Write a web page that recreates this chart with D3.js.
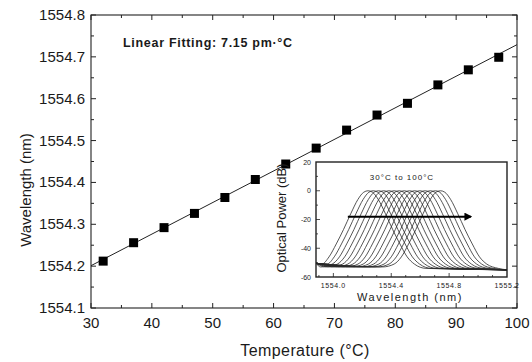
<!DOCTYPE html>
<html>
<head>
<meta charset="utf-8">
<script src="https://cdn.jsdelivr.net/npm/d3@7"></script>
<style>
  body { margin: 0; background: #fff; }
  svg { display: block; font-family: "Liberation Sans", Arial, sans-serif; }
  text { fill: #1a1a1a; }
</style>
</head>
<body>
<svg id="chart" width="532" height="362"></svg>
<script>
// main data: peak wavelength vs temperature
var temps = [32, 37, 42, 47, 52, 57, 62, 67, 72, 77, 82, 87, 92, 97];
var wavelengths = [1554.212, 1554.256, 1554.292, 1554.326, 1554.364, 1554.407, 1554.444,
                   1554.482, 1554.525, 1554.561, 1554.589, 1554.633, 1554.669, 1554.699];
var xTicks = [30, 40, 50, 60, 70, 80, 90, 100];
var yTicks = [1554.1, 1554.2, 1554.3, 1554.4, 1554.5, 1554.6, 1554.7, 1554.8];

// inset: spectra from 30 C to 100 C (centre wavelength of each trace)
var specCenters = [1554.240, 1554.276, 1554.312, 1554.348, 1554.384, 1554.420, 1554.455, 1554.490,
                   1554.526, 1554.562, 1554.598, 1554.634, 1554.670, 1554.705, 1554.740];
// shape of one trace, offset from centre (nm) and power (dB)
var profileOffset = [-0.40, -0.32, -0.27, -0.22, -0.17, -0.12, -0.07, -0.03, 0, 0.03, 0.07, 0.12, 0.17, 0.22, 0.27, 0.32, 0.40];
var profileDb     = [-53, -51, -46, -37, -27, -16, -6, -1, 0, -1, -6, -16, -27, -37, -46, -51, -54];
var baseLeftDb = -50.5, baseRightDb = -55;
var insetXTicks = [1554.0, 1554.4, 1554.8, 1555.2];
var insetYTicks = [20, 0, -20, -40, -60];
var arrowSpan = [1554.10, 1554.95], arrowDb = -18;

var svg = d3.select("#chart");
var M = {left: 91, right: 517, top: 15, bottom: 308};
var x = d3.scaleLinear().domain([30, 100]).range([M.left, M.right]);
var y = d3.scaleLinear().domain([1554.1, 1554.8]).range([M.bottom, M.top]);

// frame
svg.append("rect").attr("x", M.left).attr("y", M.top)
	.attr("width", M.right - M.left).attr("height", M.bottom - M.top)
	.attr("fill", "none").attr("stroke", "#222").attr("stroke-width", 1.1);

// ticks inside, on all four sides
function ticks(scale, major, minorStep, orient, pos) {
	var d = scale.domain();
	var minor = d3.range(d[0], d[1] + 1e-9, minorStep);
	var g = svg.append("g").attr("stroke", "#222").attr("stroke-width", 1);
	minor.forEach(function(v) {
		var isMajor = major.some(function(m) { return Math.abs(m - v) < 1e-6; });
		var len = isMajor ? 5 : 3, p = scale(v);
		if (orient == "bottom") g.append("line").attr("x1", p).attr("x2", p).attr("y1", pos).attr("y2", pos - len);
		if (orient == "top") g.append("line").attr("x1", p).attr("x2", p).attr("y1", pos).attr("y2", pos + len);
		if (orient == "left") g.append("line").attr("y1", p).attr("y2", p).attr("x1", pos).attr("x2", pos + len);
		if (orient == "right") g.append("line").attr("y1", p).attr("y2", p).attr("x1", pos).attr("x2", pos - len);
	});
}
ticks(x, xTicks, 5, "bottom", M.bottom);
ticks(x, xTicks, 5, "top", M.top);
ticks(y, yTicks, 0.05, "left", M.left);
ticks(y, yTicks, 0.05, "right", M.right);

svg.append("g").selectAll("text").data(xTicks).join("text")
	.attr("x", function(d) { return x(d); }).attr("y", 328)
	.attr("text-anchor", "middle").attr("font-size", 15).text(function(d) { return d; });
svg.append("g").selectAll("text").data(yTicks).join("text")
	.attr("x", 85).attr("y", function(d) { return y(d) + 5; })
	.attr("text-anchor", "end").attr("font-size", 15).text(function(d) { return d.toFixed(1); });

svg.append("text").attr("x", 305).attr("y", 356).attr("text-anchor", "middle")
	.attr("font-size", 16).attr("letter-spacing", 0.4).text("Temperature (°C)");
svg.append("text").attr("transform", "translate(31,190) rotate(-90)").attr("text-anchor", "middle")
	.attr("font-size", 15).text("Wavelength (nm)");

// linear fit from the data
var mT = d3.mean(temps), mW = d3.mean(wavelengths);
var slope = d3.sum(temps, function(t, i) { return (t - mT) * (wavelengths[i] - mW); }) /
            d3.sum(temps, function(t) { return (t - mT) * (t - mT); });
var fit = function(t) { return mW + slope * (t - mT); };
svg.append("line").attr("x1", x(30)).attr("y1", y(fit(30))).attr("x2", x(100)).attr("y2", y(fit(100)))
	.attr("stroke", "#222").attr("stroke-width", 1);

svg.append("g").selectAll("rect").data(temps).join("rect")
	.attr("x", function(d) { return x(d) - 4.5; })
	.attr("y", function(d, i) { return y(wavelengths[i]) - 4.5; })
	.attr("width", 9).attr("height", 9).attr("fill", "#000");

svg.append("text").attr("x", 123).attr("y", 47).attr("font-size", 12.5).attr("font-weight", "bold")
	.attr("letter-spacing", 0.7).text("Linear Fitting: 7.15 pm·°C");

// ---- inset ----
var I = {left: 316, right: 507, top: 162, bottom: 277};
var ix = d3.scaleLinear().domain([1553.88, 1555.2]).range([I.left, I.right]);
var iy = d3.scaleLinear().domain([-60, 20]).range([I.bottom, I.top]);

svg.append("rect").attr("x", I.left).attr("y", I.top)
	.attr("width", I.right - I.left).attr("height", I.bottom - I.top).attr("fill", "#fff");
svg.append("clipPath").attr("id", "inset-clip").append("rect")
	.attr("x", I.left).attr("y", I.top).attr("width", I.right - I.left).attr("height", I.bottom - I.top);

var line = d3.line().x(function(d) { return ix(d[0]); }).y(function(d) { return iy(d[1]); })
	.curve(d3.curveMonotoneX);
var traces = specCenters.map(function(c) {
	var pts = [[1553.88, baseLeftDb]];
	profileOffset.forEach(function(o, k) {
		var w = c + o;
		if (w > 1553.88 && w < 1555.2) pts.push([w, profileDb[k]]);
	});
	pts.push([1555.2, baseRightDb]);
	return pts;
});
svg.append("g").attr("clip-path", "url(#inset-clip)").selectAll("path").data(traces).join("path")
	.attr("d", line).attr("fill", "none").attr("stroke", "#2a2a2a").attr("stroke-width", 0.8);

svg.append("defs").append("marker").attr("id", "arrowhead").attr("viewBox", "0 0 10 10")
	.attr("refX", 8).attr("refY", 5).attr("markerWidth", 4).attr("markerHeight", 4).attr("orient", "auto")
	.append("path").attr("d", "M0,0 L10,5 L0,10 z").attr("fill", "#000");
svg.append("line").attr("x1", ix(arrowSpan[0])).attr("x2", ix(arrowSpan[1]))
	.attr("y1", iy(arrowDb)).attr("y2", iy(arrowDb))
	.attr("stroke", "#000").attr("stroke-width", 2).attr("marker-end", "url(#arrowhead)");

svg.append("rect").attr("x", I.left).attr("y", I.top)
	.attr("width", I.right - I.left).attr("height", I.bottom - I.top)
	.attr("fill", "none").attr("stroke", "#222").attr("stroke-width", 1.4);

var ig = svg.append("g").attr("stroke", "#222").attr("stroke-width", 0.8);
d3.range(1553.9, 1555.2, 0.1).forEach(function(v) {
	var major = insetXTicks.some(function(m) { return Math.abs(m - v) < 1e-6; });
	ig.append("line").attr("x1", ix(v)).attr("x2", ix(v)).attr("y1", I.bottom).attr("y2", I.bottom - (major ? 4 : 2));
});
d3.range(-50, 20, 10).forEach(function(v) {
	ig.append("line").attr("x1", I.left).attr("x2", I.left + (v % 20 == 0 ? 4 : 2)).attr("y1", iy(v)).attr("y2", iy(v));
});

svg.append("g").selectAll("text").data(insetXTicks).join("text")
	.attr("x", function(d) { return ix(d); }).attr("y", 288)
	.attr("text-anchor", "middle").attr("font-size", 7).attr("letter-spacing", 0.6)
	.text(function(d) { return d.toFixed(1); });
svg.append("g").selectAll("text").data(insetYTicks).join("text")
	.attr("x", 311).attr("y", function(d) { return iy(d) + 2.5; })
	.attr("text-anchor", "end").attr("font-size", 7).text(function(d) { return d; });

svg.append("text").attr("x", 410).attr("y", 301).attr("text-anchor", "middle")
	.attr("font-size", 11).attr("letter-spacing", 1.5).text("Wavelength (nm)");
svg.append("text").attr("transform", "translate(286,218) rotate(-90)").attr("text-anchor", "middle")
	.attr("font-size", 13).text("Optical Power (dB)");
svg.append("text").attr("x", 402).attr("y", 180).attr("text-anchor", "middle")
	.attr("font-size", 8).attr("letter-spacing", 1).text("30°C to 100°C");
</script>
</body>
</html>
